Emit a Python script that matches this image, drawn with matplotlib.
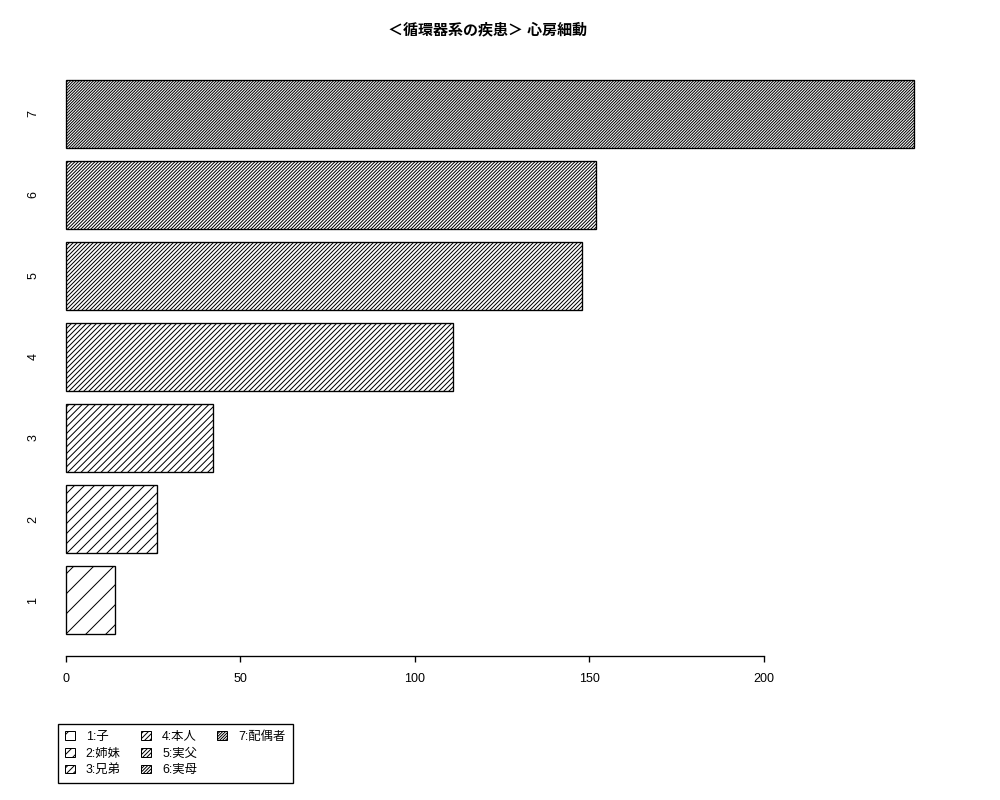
import matplotlib
matplotlib.use("Agg")
import matplotlib.pyplot as plt
from matplotlib.patches import Patch

plt.rcParams['font.family'] = ['Liberation Sans', 'Noto Sans CJK JP', 'DejaVu Sans']
plt.rcParams['hatch.linewidth'] = 0.6

# data
categories = ['1', '2', '3', '4', '5', '6', '7']
values = [14, 26, 42, 111, 148, 152, 243]
legend_labels = ['1:子', '2:姉妹', '3:兄弟', '4:本人', '5:実父', '6:実母', '7:配偶者']
hatch_counts = [2, 4, 6, 8, 10, 12, 14]
x_ticks = [0, 50, 100, 150, 200]
title = '＜循環器系の疾患＞ 心房細動'

DPI = 120
fig = plt.figure(figsize=(1000 / DPI, 800 / DPI), dpi=DPI)
# plot region in pixels: x 59..948, y 58..656
ax = fig.add_axes([59 / 1000, 1 - 656 / 800, (948 - 59) / 1000, (656 - 58) / 800])

pos = list(range(1, len(values) + 1))
bars = ax.barh(pos, values, height=1 / 1.2, color='white',
               edgecolor='black', linewidth=0.8)
for b, n in zip(bars, hatch_counts):
    b.set_hatch('/' * n)

ax.set_xlim(-2, 252.8)
ax.set_ylim(0.309, 7.691)

for s in ['top', 'right', 'left']:
    ax.spines[s].set_visible(False)
ax.spines['bottom'].set_bounds(0, 200)
ax.spines['bottom'].set_linewidth(0.8)

ax.set_xticks(x_ticks)
ax.set_xticklabels([str(t) for t in x_ticks], fontsize=7.5)
ax.tick_params(axis='x', length=3.5, width=0.8, pad=6.5)

ax.set_yticks(pos)
ax.set_yticklabels(categories, fontsize=7.5, rotation=90, va='center')
ax.tick_params(axis='y', length=0, pad=11.8)

fig.text(0.488, 1 - 30 / 800, title, ha='center', va='center',
         fontsize=9, fontweight='bold')

# legend: R fills 3 rows per column, so pad with two empty entries
handles = [Patch(facecolor='white', edgecolor='black', linewidth=0.6, hatch='/' * n)
           for n in hatch_counts]
labels = list(legend_labels)
handles += [Patch(visible=False), Patch(visible=False)]
labels += ['', '']
leg = fig.legend(handles, labels, ncol=3, loc='lower left',
                 bbox_to_anchor=(58 / 1000, 1 - 783 / 800), borderaxespad=0,
                 fontsize=7.4, fancybox=False, edgecolor='black', framealpha=1,
                 handlelength=0.8, handleheight=0.7, handletextpad=0.9,
                 columnspacing=1.65, labelspacing=0.38, borderpad=0.55)
leg.get_frame().set_linewidth(0.8)

fig.savefig('out.png', dpi=DPI)
